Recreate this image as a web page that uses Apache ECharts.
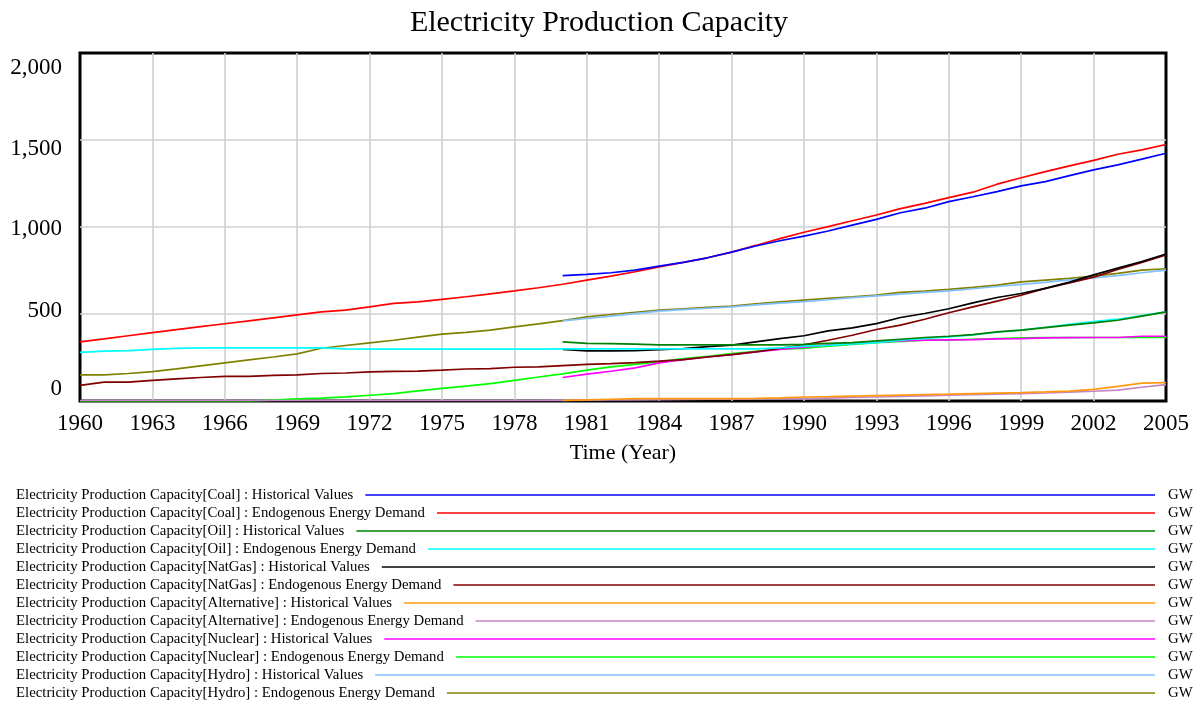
<!DOCTYPE html>
<html>
<head>
<meta charset="utf-8">
<title>Electricity Production Capacity</title>
<script src="https://cdn.jsdelivr.net/npm/echarts@6/dist/echarts.min.js"></script>
<style>
  html, body { margin: 0; padding: 0; background: #fff; }
  #chart { width: 1198px; height: 704px; }
</style>
</head>
<body>
<div id="chart"></div>
<script>
// Years covered by the simulation run
const years = [];
for (let y = 1960; y <= 2005; y++) years.push(y);

// Historical series begin in 1980
const histStart = 1980;

// Capacity in GW, one value per year
const coalHist = [720, 728, 737, 752, 775, 797, 823, 856, 891, 921, 948, 977, 1011, 1044, 1082, 1108, 1146, 1174, 1203, 1236, 1261, 1295, 1328, 1357, 1390, 1424];
const coalEndo = [340, 357, 375, 393, 410, 427, 444, 461, 478, 495, 512, 522, 541, 561, 570, 584, 599, 616, 633, 651,
                  671, 695, 718, 743, 771, 797, 823, 856, 894, 933, 970, 1002, 1036, 1069, 1106, 1136, 1169, 1200, 1246, 1283,
                  1318, 1351, 1383, 1418, 1443, 1474];
const oilHist = [340, 331, 330, 327, 322, 322, 322, 322, 322, 323, 325, 331, 336, 345, 355, 365, 372, 382, 397, 407, 422, 436, 449, 464, 488, 512];
const oilEndo = [280, 287, 289, 297, 302, 305, 305, 305, 305, 305, 305, 299, 298, 298, 298, 298, 298, 298, 298, 298,
                 299, 299, 299, 299, 299, 299, 299, 299, 300, 305, 315, 320, 328, 336, 350, 360, 368, 380, 395, 407,
                 424, 440, 456, 470, 491, 512];
const natGasHist = [296, 288, 288, 290, 295, 301, 312, 321, 340, 359, 375, 403, 420, 445, 480, 503, 530, 564, 595, 618, 647, 683, 725, 764, 802, 845];
const natGasEndo = [90, 108, 108, 119, 127, 135, 142, 142, 147, 150, 158, 161, 167, 170, 172, 177, 184, 186, 194, 196,
                    203, 210, 215, 221, 229, 238, 253, 267, 282, 302, 323, 349, 378, 411, 436, 470, 507, 541, 574, 608,
                    647, 679, 712, 756, 797, 839];
const altHist = [4, 6, 10, 14, 14, 14, 14, 14, 15, 18, 23, 25, 28, 31, 34, 37, 39, 42, 45, 48, 52, 57, 67, 84, 103, 106];
const altEndo = [3, 3, 3, 3, 3, 3, 3, 3, 3, 3, 3, 3, 3, 3, 3, 3, 3, 3, 3, 3,
                 4, 5, 6, 7, 8, 9, 10, 11, 12, 13, 14, 17, 20, 23, 26, 30, 33, 36, 39, 42,
                 46, 51, 56, 63, 79, 94];
const nuclearHist = [135, 154, 171, 190, 219, 238, 253, 267, 282, 296, 310, 322, 330, 338, 345, 349, 351, 353, 357, 359, 363, 364, 365, 365, 372, 372];
const nuclearEndo = [0, 0, 0, 0, 0, 0, 0, 0, 5, 12, 16, 24, 33, 42, 58, 73, 85, 100, 119, 138,
                     156, 177, 196, 211, 225, 244, 257, 273, 286, 298, 303, 315, 325, 336, 343, 349, 351, 355, 359, 363,
                     364, 365, 365, 365, 365, 365];
const hydroHist = [461, 474, 488, 502, 516, 525, 533, 541, 552, 562, 571, 582, 594, 604, 614, 624, 633, 645, 658, 670, 682, 696, 708, 721, 737, 752];
const hydroEndo = [150, 150, 158, 169, 185, 202, 219, 236, 253, 271, 303, 319, 334, 349, 367, 384, 394, 407, 426, 443,
                   462, 484, 497, 510, 522, 530, 538, 545, 558, 570, 580, 590, 598, 608, 624, 632, 641, 653, 666, 685,
                   695, 705, 718, 733, 752, 760];

// Axis ticks
const xTicks = { min: 1960, max: 2005, step: 3 };
const yTicks = { min: 0, max: 2000, step: 500 };

const seriesDefs = [
  { name: 'Electricity Production Capacity[Coal] : Historical Values', values: coalHist, start: histStart, color: '#0000ff' },
  { name: 'Electricity Production Capacity[Coal] : Endogenous Energy Demand', values: coalEndo, start: 1960, color: '#ff0000' },
  { name: 'Electricity Production Capacity[Oil] : Historical Values', values: oilHist, start: histStart, color: '#008000' },
  { name: 'Electricity Production Capacity[Oil] : Endogenous Energy Demand', values: oilEndo, start: 1960, color: '#00ffff' },
  { name: 'Electricity Production Capacity[NatGas] : Historical Values', values: natGasHist, start: histStart, color: '#000000' },
  { name: 'Electricity Production Capacity[NatGas] : Endogenous Energy Demand', values: natGasEndo, start: 1960, color: '#800000' },
  { name: 'Electricity Production Capacity[Alternative] : Historical Values', values: altHist, start: histStart, color: '#ff9a10' },
  { name: 'Electricity Production Capacity[Alternative] : Endogenous Energy Demand', values: altEndo, start: 1960, color: '#c585c5' },
  { name: 'Electricity Production Capacity[Nuclear] : Historical Values', values: nuclearHist, start: histStart, color: '#ff00ff' },
  { name: 'Electricity Production Capacity[Nuclear] : Endogenous Energy Demand', values: nuclearEndo, start: 1960, color: '#00ff00' },
  { name: 'Electricity Production Capacity[Hydro] : Historical Values', values: hydroHist, start: histStart, color: '#80c0ff' },
  { name: 'Electricity Production Capacity[Hydro] : Endogenous Energy Demand', values: hydroEndo, start: 1960, color: '#808000' }
];
const unitLabel = 'GW';

const FONT = '"Liberation Serif", "Times New Roman", serif';

// Vertical nudges for the y labels so the end labels sit inside the frame
const yLabelPad = { 0: [0, 0, 24, 0], 500: [0, 0, 6, 0], 1000: [4, 0, 0, 0], 1500: [17, 0, 0, 0], 2000: [30, 0, 0, 0] };
const yRich = {};
Object.keys(yLabelPad).forEach(function (k) {
  yRich['v' + k] = { padding: yLabelPad[k], fontSize: 23, fontFamily: FONT, color: '#000' };
});

const series = seriesDefs.map(function (d, i) {
  return {
    name: d.name,
    type: 'line',
    data: d.values.map(function (v, j) { return [d.start + j, v]; }),
    showSymbol: false,
    symbol: 'none',
    silent: true,
    z: 30 - i,
    lineStyle: { color: d.color, width: 1.7 },
    itemStyle: { color: d.color },
    animation: false
  };
});

// Legend block: label, long colour line, unit
const LEGEND_FONT = '14.8px ' + FONT;
const legendTop = 495, legendStep = 18, legendLeft = 16, lineEnd = 1155, unitX = 1168;
const measureCtx = document.createElement('canvas').getContext('2d');
measureCtx.font = LEGEND_FONT;
const legendGraphics = [];
seriesDefs.forEach(function (d, i) {
  const y = legendTop + i * legendStep;
  const w = measureCtx.measureText(d.name).width;
  legendGraphics.push({
    type: 'text', left: legendLeft, top: y - 7.5,
    style: { text: d.name, font: LEGEND_FONT, fill: '#000' }
  });
  legendGraphics.push({
    type: 'line',
    shape: { x1: legendLeft + w + 12, y1: y, x2: lineEnd, y2: y },
    style: { stroke: d.color, lineWidth: 1.5 }
  });
  legendGraphics.push({
    type: 'text', left: unitX, top: y - 7.5,
    style: { text: unitLabel, font: LEGEND_FONT, fill: '#000' }
  });
});

const chart = echarts.init(document.getElementById('chart'), null, { renderer: 'canvas' });
chart.setOption({
  animation: false,
  backgroundColor: '#ffffff',
  title: {
    text: 'Electricity Production Capacity',
    left: 'center',
    top: 3,
    textStyle: { fontFamily: FONT, fontSize: 30, fontWeight: 'normal', color: '#000' }
  },
  grid: {
    left: 80, right: 32, top: 53, bottom: 303,
    show: true, borderColor: '#000', borderWidth: 3, backgroundColor: 'transparent'
  },
  xAxis: {
    type: 'value',
    min: xTicks.min, max: xTicks.max, interval: xTicks.step,
    name: 'Time (Year)',
    nameLocation: 'middle',
    nameGap: 41,
    nameTextStyle: { fontFamily: FONT, fontSize: 22, color: '#000' },
    axisLine: { show: false },
    axisTick: { show: false },
    axisLabel: {
      fontFamily: FONT, fontSize: 23, color: '#000', margin: 11,
      formatter: function (v) { return String(v); }
    },
    splitLine: { show: true, showMinLine: false, showMaxLine: false, lineStyle: { color: '#d0d0d0', width: 1.6 } }
  },
  yAxis: {
    type: 'value',
    min: yTicks.min, max: yTicks.max, interval: yTicks.step,
    axisLine: { show: false },
    axisTick: { show: false },
    axisLabel: {
      margin: 18,
      formatter: function (v) {
        return '{v' + v + '|' + v.toLocaleString('en-US') + '}';
      },
      rich: yRich
    },
    splitLine: { show: true, showMinLine: false, showMaxLine: false, lineStyle: { color: '#d0d0d0', width: 1.6 } }
  },
  graphic: legendGraphics,
  series: series
});
</script>
</body>
</html>
